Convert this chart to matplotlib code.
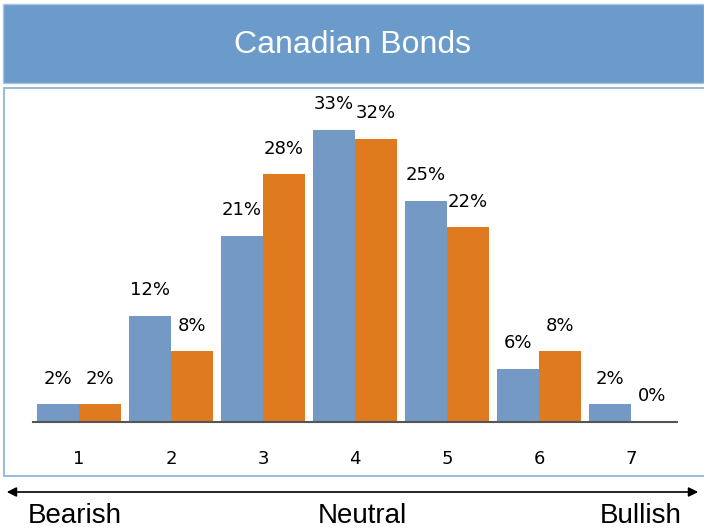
import numpy as np
import matplotlib.pyplot as plt
from matplotlib.patches import Rectangle, FancyArrowPatch

categories = [1, 2, 3, 4, 5, 6, 7]
series_a = [2, 12, 21, 33, 25, 6, 2]
series_b = [2, 8, 28, 32, 22, 8, 0]
scale_labels = ["Bearish", "Neutral", "Bullish"]

BLUE = "#7399c4"
ORANGE = "#e07a1f"
BAND = "#6a9bcb"

fig = plt.figure(figsize=(7.04, 5.31), dpi=100)

# header band and framed panel (kept behind the axes)
fig.patches.append(Rectangle((3 / 704, 1 - 83 / 531), 701 / 704, 79 / 531,
                             transform=fig.transFigure, facecolor=BAND,
                             edgecolor="#a9c4e0", lw=1, zorder=-2))
fig.patches.append(Rectangle((4 / 704, 1 - 476 / 531), 705 / 704, 388 / 531,
                             transform=fig.transFigure, facecolor="white",
                             edgecolor="#9dbcdc", lw=1.5, zorder=-2))
fig.text(0.5, 1 - 45 / 531, "Canadian Bonds", ha="center", va="center",
         color="white", fontsize=23, family="Liberation Sans")

ax = fig.add_axes([33 / 704, 1 - 422 / 531, 644 / 704, 0.6])
ax.set_facecolor("none")
x = np.array(categories)
w = 0.457
bars_a = ax.bar(x - w / 2, series_a, w, color=BLUE)
bars_b = ax.bar(x + w / 2, series_b, w, color=ORANGE)
for bars, vals in ((bars_a, series_a), (bars_b, series_b)):
    for b, v in zip(bars, vals):
        ax.annotate(f"{v}%", (b.get_x() + b.get_width() / 2, v),
                    xytext=(0, 12), textcoords="offset points",
                    ha="center", va="bottom", fontsize=13, family="DejaVu Sans")

ax.set_xlim(0.5, 7.5)
ax.set_ylim(0, 36)
for s in ("top", "left", "right"):
    ax.spines[s].set_visible(False)
ax.spines["bottom"].set_color("#555555")
ax.spines["bottom"].set_linewidth(1.5)
ax.set_yticks([])
ax.set_xticks(x)
ax.set_xticklabels([str(c) for c in categories], fontsize=13,
                   family="Liberation Sans Narrow")
ax.tick_params(axis="x", length=0, pad=20)

# sentiment scale under the panel
fig.patches.append(FancyArrowPatch((4 / 704, 1 - 492 / 531), (701 / 704, 1 - 492 / 531),
                                   transform=fig.transFigure, arrowstyle="<|-|>",
                                   mutation_scale=14, color="black", lw=1.2))
for label, xc in zip(scale_labels, [75, 362, 641]):
    fig.text(xc / 704, 1 - 516 / 531, label, ha="center", va="center",
             fontsize=20, family="Liberation Sans")

fig.savefig("out.png", dpi=100)
